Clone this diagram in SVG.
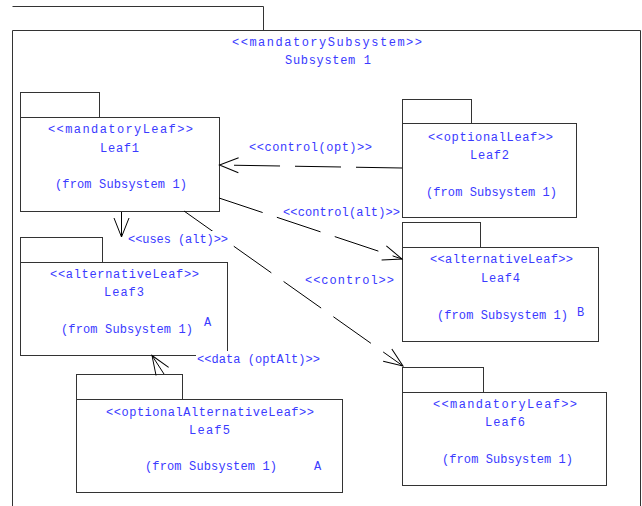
<svg xmlns="http://www.w3.org/2000/svg" width="642" height="506" viewBox="0 0 642 506">
<defs>
<style>
.box{fill:#fff;stroke:#333;stroke-width:1}
.frame{fill:none;stroke:#333;stroke-width:1}
.t{font-family:"Liberation Mono","Courier New",monospace;font-size:12px;fill:#3a3aff}
.conn{fill:none;stroke:#000;stroke-width:1}
.dash{stroke-dasharray:46 15}
.bg{fill:#fff}
</style>
<marker id="open" markerUnits="userSpaceOnUse" markerWidth="30" markerHeight="30" viewBox="-25 -15 30 30" refX="0" refY="0" orient="auto">
<path d="M-19,-7.5 L0,0 L-19,7.5" fill="none" stroke="#000" stroke-width="1" stroke-dasharray="none"/>
</marker>
</defs>
<rect width="642" height="506" fill="#fff"/>
<g id="subsystem1">
<path class="frame" d="M12.5,6.5 H263.5 V30.5"/>
<path class="frame" d="M12.5,506 V30.5 H640.5 V506"/>
<text class="t" x="232" y="46" textLength="190" lengthAdjust="spacing">&lt;&lt;mandatorySubsystem&gt;&gt;</text>
<text class="t" x="285" y="64" textLength="86" lengthAdjust="spacing">Subsystem 1</text>
</g>
<g id="leaf1">
<rect class="box" x="20.5" y="92.5" width="79" height="25"/>
<rect class="box" x="20.5" y="117.5" width="199" height="94"/>
<text class="t" x="48" y="133" textLength="145" lengthAdjust="spacing">&lt;&lt;mandatoryLeaf&gt;&gt;</text>
<text class="t" x="100" y="152" textLength="39" lengthAdjust="spacing">Leaf1</text>
<text class="t" x="55" y="188" textLength="132" lengthAdjust="spacing">(from Subsystem 1)</text>
</g>
<g id="leaf2">
<rect class="box" x="402.5" y="99.5" width="69" height="24"/>
<rect class="box" x="402.5" y="123.5" width="174" height="94"/>
<text class="t" x="428" y="141" textLength="125" lengthAdjust="spacing">&lt;&lt;optionalLeaf&gt;&gt;</text>
<text class="t" x="470" y="159" textLength="39" lengthAdjust="spacing">Leaf2</text>
<text class="t" x="426" y="196" textLength="131" lengthAdjust="spacing">(from Subsystem 1)</text>
</g>
<g id="leaf3">
<rect class="box" x="20.5" y="237.5" width="82" height="25"/>
<rect class="box" x="20.5" y="262.5" width="207" height="93"/>
<text class="t" x="50" y="278" textLength="149" lengthAdjust="spacing">&lt;&lt;alternativeLeaf&gt;&gt;</text>
<text class="t" x="104" y="296" textLength="40" lengthAdjust="spacing">Leaf3</text>
<text class="t" x="61" y="333" textLength="132" lengthAdjust="spacing">(from Subsystem 1)</text>
<text class="t" x="204" y="326">A</text>
</g>
<g id="leaf4">
<rect class="box" x="402.5" y="222.5" width="78" height="25"/>
<rect class="box" x="402.5" y="247.5" width="196" height="94"/>
<text class="t" x="430" y="263" textLength="143" lengthAdjust="spacing">&lt;&lt;alternativeLeaf&gt;&gt;</text>
<text class="t" x="481" y="282" textLength="39" lengthAdjust="spacing">Leaf4</text>
<text class="t" x="437" y="319" textLength="131" lengthAdjust="spacing">(from Subsystem 1)</text>
<text class="t" x="577" y="316">B</text>
</g>
<g id="leaf5">
<rect class="box" x="76.5" y="374.5" width="106" height="25"/>
<rect class="box" x="76.5" y="399.5" width="266" height="93"/>
<text class="t" x="106" y="416" textLength="208" lengthAdjust="spacing">&lt;&lt;optionalAlternativeLeaf&gt;&gt;</text>
<text class="t" x="189" y="434" textLength="41" lengthAdjust="spacing">Leaf5</text>
<text class="t" x="145" y="470" textLength="132" lengthAdjust="spacing">(from Subsystem 1)</text>
<text class="t" x="314" y="470">A</text>
</g>
<g id="leaf6">
<rect class="box" x="402.5" y="367.5" width="81" height="25"/>
<rect class="box" x="402.5" y="392.5" width="204" height="93"/>
<text class="t" x="433" y="408" textLength="144" lengthAdjust="spacing">&lt;&lt;mandatoryLeaf&gt;&gt;</text>
<text class="t" x="485" y="426" textLength="40" lengthAdjust="spacing">Leaf6</text>
<text class="t" x="442" y="463" textLength="131" lengthAdjust="spacing">(from Subsystem 1)</text>
</g>
<g id="connectors">
<path class="conn dash" d="M402,168 L219.5,165" marker-end="url(#open)"/>
<path class="conn dash" d="M219,198 L402,259" marker-end="url(#open)"/>
<path class="conn dash" d="M184,211 L403,366" marker-end="url(#open)"/>
<path class="conn" d="M121.5,212 L121.5,237" marker-end="url(#open)"/>
<path class="conn" d="M164,374 L152,355.5" marker-end="url(#open)"/>
<text class="t" x="249" y="151" textLength="123" lengthAdjust="spacing">&lt;&lt;control(opt)&gt;&gt;</text>
<text class="t" x="283" y="216" textLength="117" lengthAdjust="spacing">&lt;&lt;control(alt)&gt;&gt;</text>
<text class="t" x="305" y="284" textLength="89" lengthAdjust="spacing">&lt;&lt;control&gt;&gt;</text>
<rect class="bg" x="127" y="231" width="102" height="15"/>
<text class="t" x="128" y="243" textLength="100" lengthAdjust="spacing">&lt;&lt;uses (alt)&gt;&gt;</text>
<rect class="bg" x="196" y="351" width="126" height="15"/>
<text class="t" x="197" y="363" textLength="123" lengthAdjust="spacing">&lt;&lt;data (optAlt)&gt;&gt;</text>
</g>
</svg>
